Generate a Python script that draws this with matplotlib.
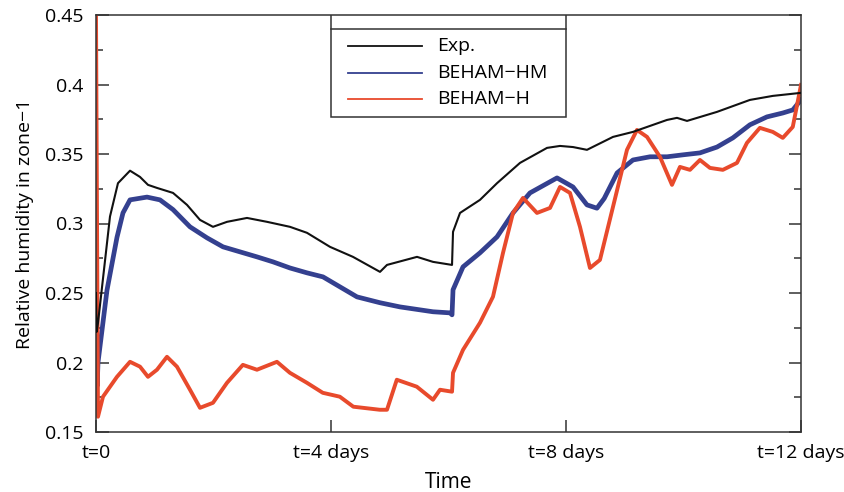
import matplotlib.pyplot as plt
from matplotlib.patches import Rectangle
from matplotlib.lines import Line2D

plt.rcParams['font.family'] = ['Open Sans', 'DejaVu Sans']

# time in days, relative humidity
t_exp = [0, 0.01, 0.034, 0.238, 0.374, 0.579, 0.749, 0.885, 1.038, 1.311, 1.549,
         1.77, 1.991, 2.23, 2.57, 2.911, 3.302, 3.591, 3.983, 4.374, 4.834, 4.953,
         5.464, 5.736, 6.06, 6.077, 6.196, 6.536, 6.826, 7.217, 7.677, 7.898, 8.119,
         8.357, 8.8, 9.14, 9.719, 9.889, 10.06, 10.57, 11.13, 11.52, 11.98, 12.0]
rh_exp = [0.25, 0.222, 0.2285, 0.305, 0.329, 0.338, 0.3335, 0.3278, 0.3256, 0.322,
          0.3134, 0.3026, 0.2976, 0.3012, 0.304, 0.3012, 0.2976, 0.2933, 0.2832,
          0.276, 0.2652, 0.2702, 0.276, 0.2724, 0.2702, 0.294, 0.3076, 0.317, 0.329,
          0.3436, 0.3544, 0.3558, 0.355, 0.353, 0.3623, 0.3659, 0.3745, 0.376,
          0.3738, 0.3803, 0.3889, 0.3918, 0.3939, 0.394]

t_hm = [0, 0.02, 0.034, 0.187, 0.357, 0.459, 0.579, 0.868, 1.089, 1.311,
        1.6, 1.889, 2.162, 2.451, 2.74, 3.013, 3.302, 3.591, 3.864, 4.153,
        4.443, 4.834, 5.174, 5.736, 6.026, 6.06, 6.077, 6.247, 6.536, 6.826,
        7.098, 7.387, 7.847, 8.119, 8.357, 8.527, 8.65, 8.87, 9.14, 9.43,
        9.72, 9.99, 10.28, 10.57, 10.84, 11.13, 11.42, 11.69, 11.86, 12.0]
rh_hm = [0.205, 0.183, 0.2, 0.252, 0.29, 0.3076, 0.317, 0.319, 0.317, 0.31,
         0.2976, 0.2897, 0.2832, 0.2796, 0.276, 0.2724, 0.268, 0.2645, 0.2616, 0.2544,
         0.2472, 0.243, 0.24, 0.2365, 0.2357, 0.2343, 0.2523, 0.2688, 0.2789, 0.2904,
         0.3076, 0.322, 0.3328, 0.3263, 0.3134, 0.311, 0.318, 0.3364, 0.3457, 0.348,
         0.348, 0.3494, 0.3508, 0.355, 0.3616, 0.371, 0.3767, 0.3795, 0.3817, 0.389]

t_h = [0, 0.034, 0.119, 0.357, 0.579, 0.749, 0.885, 1.038, 1.208, 1.378,
       1.6, 1.77, 1.991, 2.23, 2.5, 2.74, 3.08, 3.3, 3.59, 3.86,
       4.15, 4.38, 4.83, 4.953, 5.12, 5.46, 5.736, 5.855, 6.06, 6.077,
       6.247, 6.536, 6.757, 6.928, 7.098, 7.268, 7.506, 7.728, 7.898, 8.068,
       8.238, 8.408, 8.578, 8.8, 9.038, 9.208, 9.379, 9.6, 9.804, 9.94,
       10.11, 10.28, 10.45, 10.67, 10.91, 11.08, 11.3, 11.52, 11.69, 11.86,
       12.0]
rh_h = [0.45, 0.161, 0.1754, 0.1897, 0.2005, 0.197, 0.1897, 0.1948, 0.2041, 0.197,
        0.1804, 0.1674, 0.171, 0.1854, 0.1983, 0.1948, 0.2005, 0.1926, 0.1854, 0.1782,
        0.1754, 0.1682, 0.166, 0.166, 0.1876, 0.1826, 0.1732, 0.1804, 0.179, 0.1926,
        0.2091, 0.2286, 0.2473, 0.2789, 0.3076, 0.3184, 0.3076, 0.3112, 0.3263, 0.322,
        0.2976, 0.268, 0.2738, 0.312, 0.353, 0.3673, 0.3623, 0.3479, 0.3278, 0.3407,
        0.3386, 0.3457, 0.34, 0.3386, 0.3436, 0.358, 0.3688, 0.3659, 0.3616, 0.3695,
        0.3997]

labels = ['Exp.', 'BEHAM\u2212HM', 'BEHAM\u2212H']
colors = ['#111111', '#34408f', '#e84a2c']
xticks = [0, 4, 8, 12]
xticklabels = ['t=0', 't=4 days', 't=8 days', 't=12 days']

fig = plt.figure(figsize=(8.45, 4.92), dpi=100)
ax = fig.add_axes([96 / 845, 1 - 432 / 492, 705 / 845, 417 / 492])

ax.plot(t_exp, rh_exp, color=colors[0], lw=1.5, zorder=3)
ax.plot(t_hm, rh_hm, color=colors[1], lw=3.4, zorder=2)
ax.plot(t_h, rh_h, color=colors[2], lw=2.8, zorder=2.5)

ax.set_xlim(0, 12)
ax.set_ylim(0.15, 0.45)
ax.set_xticks(xticks)
ax.set_xticklabels(xticklabels, fontsize=14)
ax.set_yticks([0.15, 0.2, 0.25, 0.3, 0.35, 0.4, 0.45])
ax.set_yticklabels(['0.15', '0.2', '0.25', '0.3', '0.35', '0.4', '0.45'], fontsize=14)
ax.set_yticks([0.175, 0.225, 0.275, 0.325, 0.375, 0.425], minor=True)
ax.tick_params(axis='y', which='both', direction='in', right=True, color='#333333', pad=9)
ax.tick_params(axis='y', which='major', length=9, width=1.1)
ax.tick_params(axis='y', which='minor', length=5, width=1.1)
ax.tick_params(axis='x', direction='in', length=9, width=1.1, pad=9, color='#333333')
for s in ax.spines.values():
    s.set_color('#333333')
    s.set_linewidth(1.1)

ax.set_xlabel('Time', fontsize=15, labelpad=7)
ax.set_ylabel('Relative humidity in zone\u22121', fontsize=14, labelpad=8)

# legend box with the empty top row
x0, x1 = 4 / 12, 8 / 12
y_top, y_sep, y_bot = 1.0, 1 - 14 / 417, 1 - 102 / 417
ax.add_patch(Rectangle((x0, y_bot), x1 - x0, y_top - y_bot, transform=ax.transAxes,
                       fill=True, facecolor='white', edgecolor='#333333', lw=1.1, zorder=5))
ax.add_line(Line2D([x0, x1], [y_sep, y_sep], transform=ax.transAxes,
                   color='#333333', lw=1.1, zorder=6))
for i, (lab, c) in enumerate(zip(labels, colors)):
    yy = 1 - (31 + 26.5 * i) / 417
    ax.add_line(Line2D([x0 + 17 / 705, x0 + 91 / 705], [yy, yy], transform=ax.transAxes,
                       color=c, lw=1.3, zorder=6))
    ax.text(x0 + 106 / 705, yy, lab, transform=ax.transAxes, fontsize=14,
            va='center', ha='left', zorder=6)

fig.savefig('out.png', dpi=100)
